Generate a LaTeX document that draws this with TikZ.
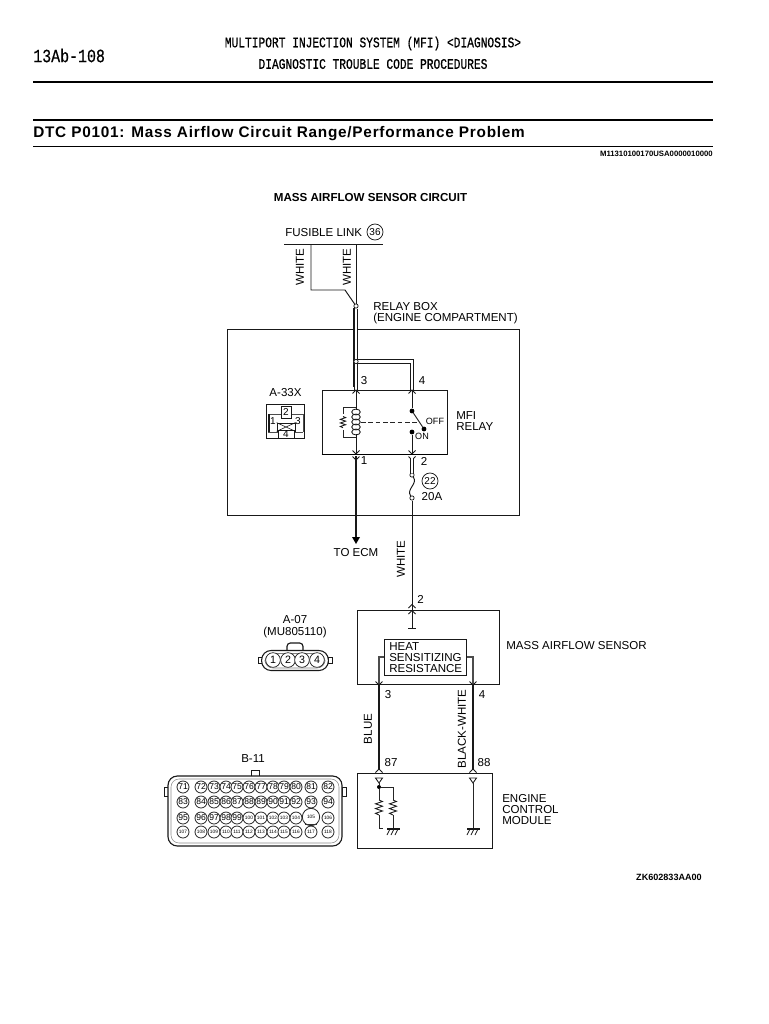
\documentclass[tikz,border=0pt]{standalone}
\usepackage{fontspec}
\setmainfont{Liberation Sans}
\newfontfamily\monof[FakeStretch=0.765,FakeBold=0.6]{Liberation Mono}
\newfontfamily\monog[FakeStretch=0.80,FakeBold=0.4]{Liberation Mono}
\newfontfamily\titlef[LetterSpace=5.0]{Liberation Sans}
\usetikzlibrary{calc}
\newcommand{\fz}[1]{\fontsize{#1}{#1}\selectfont}
\tikzset{
 x=0.75pt,y=-0.75pt,
 txt/.style={inner sep=0pt,font=\fz{8.65},align=left},
 ctxt/.style={inner sep=0pt,font=\fz{8.65},align=center},
 ltxt/.style={txt,anchor=west},
 box/.style={draw=black!90,line width=0.65pt,inner sep=0pt},
 wire/.style={draw=black!90,line width=0.72pt},
 thickw/.style={draw=black!90,line width=1.5pt},
 dbl/.style={draw=black!90,line width=0.75pt,double=white,double distance=1.7pt},
 thin/.style={draw=black!85,line width=0.6pt},
 junc/.style={circle,draw=black!90,fill=white,line width=0.55pt,minimum size=3.2pt,inner sep=0pt},
 dot/.style={circle,fill=black,minimum size=3.6pt,inner sep=0pt},
 badge/.style={circle,draw=black!90,line width=0.55pt,minimum size=12pt,inner sep=0pt,font=\fz{7.5}},
 pin/.style={circle,draw=black!85,fill=white,line width=0.6pt,minimum size=9pt,inner sep=0pt},
 pinb/.style={circle,draw=black!85,fill=white,line width=0.55pt,minimum size=11pt,inner sep=0pt,font=\fz{8}},
 chevu/.pic={\draw[black!90,line width=0.65pt] (-3.5,3.5)--(0,0)--(3.5,3.5);},
 chevd/.pic={\draw[black!90,line width=0.65pt] (-3.5,-3.5)--(0,0)--(3.5,-3.5);},
 zig/.pic={\draw[black!90,line width=0.65pt] (0,0)--(3.5,1.5)--(-3.5,3.8)--(3.5,6.2)--(-3.5,8.6)--(3.5,11)--(-3.5,13.3)--(0,15);},
 gnd/.pic={\draw[black!90,line width=0.8pt] (-6,0)--(7,0); \draw[black!90,line width=0.65pt] (-6,6)--(-3,0) (-2,6)--(1,0) (2,6)--(5,0);},
}
\begin{document}
\begin{tikzpicture}
\useasboundingbox[fill=white] (0,0) rectangle (768,1024);
% header
\node[inner sep=0pt,anchor=west,font=\monog\fz{14}] (pg) at (33,55.5) {13Ab-108};
\node[inner sep=0pt,font=\monof\fz{11}] (h1) at (373,43.5) {MULTIPORT INJECTION SYSTEM (MFI) <DIAGNOSIS>};
\node[inner sep=0pt,font=\monof\fz{11}] (h2) at (373,64) {DIAGNOSTIC TROUBLE CODE PROCEDURES};
\draw[black,line width=2.2pt] (33,82)--(713,82);
\draw[black,line width=1pt] (33,120)--(713,120);
\draw[black,line width=0.7pt] (33,146)--(713,146);
\node[inner sep=0pt,anchor=west,font=\titlef\bfseries\fz{11.5}] (title) at (33,133.5) {DTC P0101: Mass Airflow Circuit Range/Performance Problem};
\node[inner sep=0pt,anchor=east,font=\bfseries\fz{5.8}] (mref) at (713,154) {M11310100170USA0000010000};
\node[inner sep=0pt,font=\bfseries\fz{8.7}] (ctitle) at (370.5,198) {MASS AIRFLOW SENSOR CIRCUIT};
\node[inner sep=0pt,anchor=east,font=\bfseries\fz{6.8}] (zk) at (702,877) {ZK602833AA00};

% fusible link
\node[ltxt] (fl) at (285,233) {FUSIBLE LINK};
\node[badge] (b36) at (375,232) {36};
\coordinate (fa) at (284,244.5); \coordinate (fb) at (383,244.5);
\draw[wire] (fa)--(fb);
\coordinate (w1) at (311,244.5); \coordinate (w2) at (356,244.5);
\node[junc] (j1) at (356,306) {};
\draw[wire] (w1)--(311,290)--(345,290)--(j1);
\draw[wire] (w2)--(j1);
\node[ctxt,rotate=90] (wl1) at (300,267) {WHITE};
\node[ctxt,rotate=90] (wl2) at (347,267) {WHITE};
\node[txt,anchor=west,align=left] (rb) at (373,313) {RELAY BOX\\[-0.6pt](ENGINE COMPARTMENT)};

% relay box
\node[box,minimum width=219pt,minimum height=139.5pt] (rbox) at (373,422) {};
\node[box,minimum width=93.75pt,minimum height=48pt] (relay) at (384.5,422) {};
\draw[black,line width=1.1pt] (relay.south west)--(relay.south east);
\coordinate (p3) at (356,390); \coordinate (p4) at (412,390);
\coordinate (j2) at (356,361.5);
\draw[dbl] (j1)--(p3);
\draw[dbl] (j2)-|(p4);
\draw[thickw] ($(j1)+(-2.2,2)$)--($(p3)+(-2.2,-3)$);
\node[junc] at (j2) {};
\pic at (p3) {chevu}; \pic at (p4) {chevu};
\node[txt] (n3) at (364,381) {3};
\node[txt] (n4) at (422,381) {4};
% coil
\coordinate (c1) at (356,454); \coordinate (s1) at (412,411); \coordinate (s2) at (412,432); \coordinate (s3) at (424,429); \coordinate (s4) at (412,454);
\draw[wire] (p3)--(356,410) (356,434)--(c1);
\foreach \yy in {412,417,422,427,432}{\draw[black!90,line width=0.65pt] (356,\yy) ellipse [x radius=3.2pt,y radius=2.2pt];}
\draw[thin] (356,407)--(343,407)--(343,414) (343,430)--(343,437)--(356,437);
\pic[scale=.75] at (343,416.5) {zig};
\draw[thin,line width=.75pt,dash pattern=on 3.5pt off 2pt] (361,422)--(419,422);
\node[dot] (d1) at (s1) {}; \node[dot] (d2) at (s2) {}; \node[dot] (d3) at (s3) {};
\draw[wire] (p4)--(d1);
\draw[wire] (d1)--(d3);
\draw[wire] (d2)--(s4);
\node[inner sep=0pt,font=\fz{6.8}] (offl) at (435,421) {OFF};
\node[inner sep=0pt,font=\fz{6.8}] (onl) at (422,436.5) {ON};
\node[txt,anchor=west] (mfi) at (456,421) {MFI\\[-0.6pt]RELAY};
% below relay
\pic at (c1) {chevd}; \pic at (s4) {chevd};
\pic at (356,460) {chevd}; \pic at (412,460) {chevd};
\node[txt] (n1) at (364,461) {1};
\node[txt] (n2) at (424,461) {2};
\coordinate (ecm) at (356,544);
\draw[thickw] (356,456)--(356,538);
\fill[black] (352,537)--(360,537)--(356,544)--cycle;
\node[ctxt] (toecm) at (356,552.5) {TO ECM};
\node[junc] (f1) at (412,475) {}; \node[junc] (f2) at (412,498) {};
\draw[dbl] (412,458)--(f1);
\draw[wire] (f1) .. controls (418,484) and (406,489) .. (f2);
\node[badge] (b22) at (430,481) {22};
\node[ctxt] (a20) at (432,497) {20A};
\draw[wire] (f2)--(412,628);
\draw[wire] (408,628)--(416,628);
\node[ctxt,rotate=90] (wl3) at (401,559) {WHITE};
\node[txt] (n2b) at (420.5,599) {2};
\pic at (412,604.5) {chevu}; \pic at (412,610.5) {chevu};

% A-33X
\node[ctxt] (a33) at (285.5,393) {A-33X};
\node[box,line width=.6pt,minimum width=28pt,minimum height=26pt] (cA) at (285.5,421.5) {};
\draw[black!70,line width=.5pt] (268,414)--(281,414) (291,414)--(303,414) (268,432)--(278,432) (294,432)--(303,432) (303,414)--(303,432);
\draw[black!90,line width=1.1pt] (269,414)--(269,432);
\node[draw=black!90,fill=white,line width=.55pt,minimum width=7.5pt,minimum height=9pt,inner sep=0pt,font=\fz{7.5}] (a2) at (286,412) {2};
\node[draw=black!90,line width=.55pt,minimum width=13.5pt,minimum height=6pt,inner sep=0pt] (ax) at (286,427) {};
\draw[black!90,line width=.45pt] (ax.north west)--(ax.south east) (ax.south west)--(ax.north east);
\node[draw=black!90,fill=white,line width=.55pt,minimum width=12pt,minimum height=5.5pt,inner sep=0pt,font=\fz{7.5}] (a4) at (286,434.5) {4};
\node[inner sep=0pt,font=\fz{7.5}] (a1) at (273,421.5) {1};
\node[inner sep=0pt,font=\fz{7.5}] (a3) at (298,421) {3};

% mass airflow sensor
\node[box,line width=.75pt,minimum width=106pt,minimum height=55pt] (maf) at (428.5,647.5) {};
\node[box,line width=.75pt,minimum width=62pt,minimum height=27.5pt] (heat) at (425.5,657.5) {};
\node[txt,anchor=west] (heatt) at (389,657.5) {HEAT\\[-0.6pt]SENSITIZING\\[-0.6pt]RESISTANCE};
\node[ltxt] (mafl) at (506,646) {MASS AIRFLOW SENSOR};
\coordinate (p3s) at (379,685); \coordinate (p4s) at (473,685);
\draw[thin,draw=black!70,line width=.8pt] (heat.west |- 0,657)--(379,657)--(p3s);
\draw[thin,draw=black!70,line width=.8pt] (heat.east |- 0,657)--(473,657)--(p4s);
\pic at (379,685) {chevd}; \pic at (473,685) {chevd};
\node[txt] (n3s) at (388,695) {3};
\node[txt] (n4s) at (482,695) {4};
\coordinate (p87) at (379,769); \coordinate (p88) at (473,769);
\draw[thickw] (p3s)--(p87);
\draw[thickw] (p4s)--(p88);
\pic at (p87) {chevu}; \pic at (p88) {chevu};
\node[ctxt,rotate=90] (blue) at (368,729) {BLUE};
\node[ctxt,rotate=90] (bw) at (462,729) {BLACK-WHITE};
\node[txt] (n87) at (391,763) {87};
\node[txt] (n88) at (484,763) {88};
% A-07
\node[ctxt] (a07) at (295,626.5) {A-07\\[0.3pt](MU805110)};
\draw[black!90,line width=.85pt,rounded corners=2.5pt,fill=white] (287,651)--(287,643)--(303,643)--(303,651);
\node[draw=black!90,line width=.55pt,minimum width=3pt,minimum height=5pt,inner sep=0pt] (ta) at (260,660.5) {};
\node[draw=black!90,line width=.55pt,minimum width=3pt,minimum height=5pt,inner sep=0pt] (tb) at (330,660.5) {};
\node[draw=black!90,fill=white,line width=.8pt,rounded corners=7pt,minimum width=50pt,minimum height=15pt,inner sep=0pt] (cB) at (295,660.5) {};
\draw[black!50,line width=.5pt,rounded corners=6pt] (265,653.5) rectangle (325,668);
\foreach \i/\xx in {1/273,2/288,3/302,4/317}{\node[pinb] (q\i) at (\xx,660) {\i};}

% ECM
\node[box,line width=.75pt,minimum width=101.25pt,minimum height=56.25pt] (ecu) at (424.5,810.5) {};
\node[txt,anchor=west] (ecl) at (502,809.5) {ENGINE\\[-0.4pt]CONTROL\\[-0.4pt]MODULE};
\draw[black!90,line width=.65pt] (375.5,778)--(382.5,778)--(379,783)--cycle;
\draw[black!90,line width=.65pt] (469.5,778)--(476.5,778)--(473,783)--cycle;
\node[dot,minimum size=3pt] (e1) at (379,787) {};
\draw[thin] (379,783)--(e1);
\draw[thin] (e1)--(379,800) (379,815)--(379,828)--(383,828);
\draw[thin] (e1)--(393,787)--(393,800) (393,815)--(393,828);
\pic at (379,800) {zig}; \pic at (393,800) {zig};
\pic at (393,829) {gnd};
\draw[thin] (473,783)--(473,828);
\pic at (473,829) {gnd};

% B-11
\node[ctxt] (b11) at (253,759) {B-11};
\node[draw=black!90,line width=.6pt,minimum width=6.5pt,minimum height=5pt,inner sep=0pt] (t1) at (255.5,774) {};
\node[draw=black!90,line width=.6pt,minimum width=3pt,minimum height=7pt,inner sep=0pt] (t2) at (166,792) {};
\node[draw=black!90,line width=.6pt,minimum width=3pt,minimum height=7pt,inner sep=0pt] (t3) at (344,792) {};
\node[draw=black!90,fill=white,line width=.85pt,rounded corners=7pt,minimum width=130.5pt,minimum height=52.5pt,inner sep=0pt] (cC) at (255,811) {};
\draw[black!45,line width=.4pt,rounded corners=6pt] (171,779) rectangle (339,843);
\foreach \row/\yy/\start in {0/787/71,1/802/83,2/818/95,3/832/107}{
  \foreach \k/\xx in {0/183,1/201,2/214,3/226,4/237,5/249,6/261,7/273,8/284,9/296,10/311,11/328}{
    \pgfmathtruncatemacro{\num}{\start+\k}
    \pgfmathsetmacro{\sz}{ifthenelse(\num>99,3.6,6.4)}
    \node[pin,font=\fz{\sz}] (k\num) at (\xx,\yy) {\num};
  }
}
\node[pin,minimum size=13pt,font=\fz{3.6}] (k105b) at (311,817) {105};
\fill[black!80] (305,823.5) rectangle (317,825);
\end{tikzpicture}
\end{document}
